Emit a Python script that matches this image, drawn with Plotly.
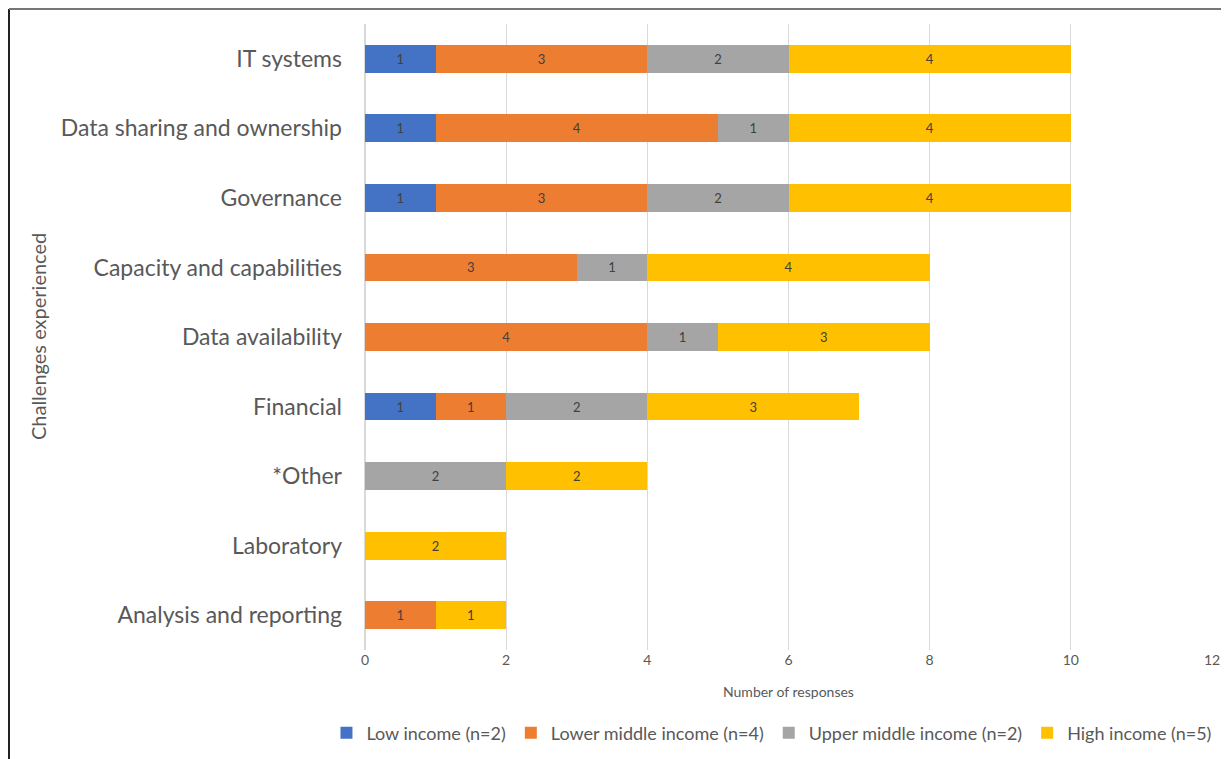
import plotly.graph_objects as go

categories = ["IT systems", "Data sharing and ownership", "Governance",
              "Capacity and capabilities", "Data availability", "Financial",
              "*Other", "Laboratory", "Analysis and reporting"]
low_income = [1, 1, 1, 0, 0, 1, 0, 0, 0]
lower_middle_income = [3, 4, 3, 3, 4, 1, 0, 0, 1]
upper_middle_income = [2, 1, 2, 1, 1, 2, 2, 0, 0]
high_income = [4, 4, 4, 4, 3, 3, 2, 2, 1]
series_names = ["Low income (n=2)", "Lower middle income (n=4)",
                "Upper middle income (n=2)", "High income (n=5)"]
x_ticks = [0, 2, 4, 6, 8, 10, 12]

colors = ["#4472C4", "#ED7D31", "#A5A5A5", "#FFC000"]
FONT = "Lato, 'Open Sans', sans-serif"

fig = go.Figure()
for name, vals, col in zip(series_names,
                           [low_income, lower_middle_income, upper_middle_income, high_income],
                           colors):
    fig.add_trace(go.Bar(
        y=categories, x=vals, name=name, orientation="h",
        marker=dict(color=col, line=dict(width=0)),
        text=[str(v) if v else "" for v in vals],
        textposition="inside", insidetextanchor="middle",
        textfont=dict(size=13, color="#404040", family=FONT),
        textangle=0, constraintext="none",
        hoverinfo="skip",
    ))

fig.update_layout(
    barmode="stack", bargap=0.6,
    width=1221, height=751,
    margin=dict(l=357, r=17, t=16, b=109, autoexpand=False),
    plot_bgcolor="white", paper_bgcolor="white",
    font=dict(family=FONT, color="#595959"),
    showlegend=True,
    legend=dict(orientation="h", x=-0.0455, xanchor="left", y=-0.1326, yanchor="middle",
                font=dict(size=18, color="#595959", family=FONT),
                traceorder="normal", itemwidth=30, tracegroupgap=0),
    uniformtext=dict(mode=False),
)
fig.update_xaxes(range=[0, 12], tickvals=x_ticks, showgrid=True, gridcolor="#D9D9D9",
                 gridwidth=1, zeroline=True, zerolinecolor="#D9D9D9", showline=False,
                 tickfont=dict(size=14, color="#595959"), ticks="", fixedrange=True,
                 automargin=False)
fig.update_yaxes(categoryorder="array", categoryarray=categories[::-1], autorange=True,
                 showgrid=False, showline=False, automargin=False,
                 tickfont=dict(size=23, color="#595959"), ticks="", ticklen=0,
                 ticklabelstandoff=22)

fig.add_annotation(text="Number of responses", xref="paper", yref="paper",
                   x=0.5, y=-0.0655, showarrow=False,
                   font=dict(size=14, color="#595959"), xanchor="center", yanchor="middle")
fig.add_annotation(text="Challenges experienced", xref="paper", yref="paper",
                   x=-0.386, y=0.5, showarrow=False, textangle=-90,
                   font=dict(size=20, color="#595959"), xanchor="center", yanchor="middle")

# chart border (left and top)
fig.add_shape(type="line", xref="paper", yref="paper", x0=-0.4203, x1=-0.4203,
              y0=1.024, y1=-0.18, line=dict(color="#222222", width=2))
fig.add_shape(type="line", xref="paper", yref="paper", x0=-0.4203, x1=1.03,
              y0=1.024, y1=1.024, line=dict(color="#767676", width=2))

fig.write_html("out.html")
